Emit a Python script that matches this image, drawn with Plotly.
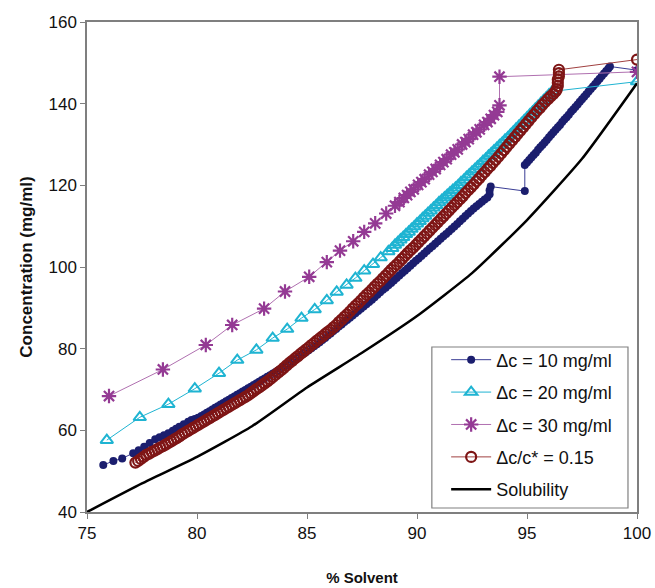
import plotly.graph_objects as go

# ---- data ----
dc10_x = [75.74, 76.2, 76.6, 77.1, 77.35, 77.6, 77.85, 78.1, 78.3, 78.5, 78.7, 78.9, 79.05, 79.2, 79.4,
          79.6, 79.75, 79.9, 80.05, 80.2, 80.325, 80.45, 80.575, 80.7, 80.825, 80.95, 81.075, 81.2, 81.325, 81.45,
          81.575, 81.7, 81.825, 81.95, 82.075, 82.2, 82.325, 82.45, 82.575, 82.7, 82.825, 82.95, 83.075, 83.2, 83.325,
          83.45, 83.575, 83.7, 83.825, 83.95, 84.075, 84.2, 84.325, 84.45, 84.575, 84.7, 84.825, 84.95, 85.075, 85.2,
          85.325, 85.45, 85.575, 85.7, 85.825, 85.95, 86.075, 86.2, 86.325, 86.45, 86.575, 86.7, 86.825, 86.95, 87.075,
          87.2, 87.325, 87.45, 87.575, 87.7, 87.825, 87.95, 88.075, 88.2, 88.325, 88.45, 88.575, 88.7, 88.825, 88.95,
          89.075, 89.2, 89.325, 89.45, 89.575, 89.7, 89.825, 89.95, 90.075, 90.2, 90.325, 90.45, 90.575, 90.7, 90.825,
          90.95, 91.075, 91.2, 91.325, 91.45, 91.575, 91.7, 91.825, 91.95, 92.075, 92.2, 92.325, 92.45, 92.575, 92.7,
          92.825, 92.95, 93.075, 93.2, 93.3, 93.3, 93.35, 94.9, 94.9, 95.0, 95.1, 95.2, 95.3, 95.4, 95.5,
          95.6, 95.7, 95.8, 95.9, 96.0, 96.1, 96.2, 96.3, 96.4, 96.5, 96.6, 96.7, 96.8, 96.9, 97.0,
          97.1, 97.2, 97.3, 97.4, 97.5, 97.6, 97.7, 97.8, 97.9, 98.0, 98.1, 98.2, 98.3, 98.4, 98.5,
          98.6, 98.7, 98.77, 100.0]
dc10_y = [51.5, 52.5, 53.1, 54.4, 55.1, 56.0, 56.9, 57.8, 58.3, 58.8, 59.3, 59.9, 60.4, 60.9, 61.5,
          62.1, 62.5, 62.8, 63.1, 63.5, 63.9, 64.3, 64.7, 65.1, 65.5, 65.9, 66.3, 66.7, 67.1, 67.5,
          67.9, 68.3, 68.7, 69.1, 69.5, 69.9, 70.3, 70.7, 71.1, 71.5, 71.9, 72.3, 72.7, 73.1, 73.5,
          73.9, 74.3, 74.7, 75.1, 75.5, 76.0, 76.4, 76.9, 77.3, 77.8, 78.2, 78.7, 79.1, 79.6, 80.1,
          80.6, 81.1, 81.6, 82.1, 82.6, 83.2, 83.7, 84.3, 84.8, 85.4, 85.9, 86.5, 87.0, 87.6, 88.1,
          88.7, 89.2, 89.8, 90.3, 90.9, 91.4, 92.0, 92.6, 93.2, 93.8, 94.4, 94.9, 95.5, 96.1, 96.7,
          97.3, 97.9, 98.5, 99.1, 99.7, 100.3, 100.9, 101.5, 102.1, 102.7, 103.3, 103.9, 104.5, 105.1, 105.7,
          106.3, 106.9, 107.5, 108.1, 108.7, 109.3, 109.9, 110.5, 111.2, 111.8, 112.5, 113.1, 113.7, 114.3, 114.9,
          115.4, 116.0, 116.5, 117.0, 117.8, 118.8, 119.7, 118.6, 125.0, 125.6, 126.2, 126.8, 127.4, 128.0, 128.7,
          129.3, 129.9, 130.5, 131.1, 131.8, 132.4, 133.0, 133.6, 134.2, 134.8, 135.5, 136.1, 136.7, 137.3, 138.0,
          138.6, 139.2, 139.8, 140.5, 141.1, 141.7, 142.3, 143.0, 143.6, 144.2, 144.8, 145.5, 146.1, 146.8, 147.4,
          148.0, 148.6, 149.1, 148.2]

dc20_x = [75.9, 77.4, 78.7, 79.9, 81.0, 81.83, 82.7, 83.44, 84.1, 84.75, 85.35, 85.9, 86.35, 86.8, 87.2,
          87.6, 88.0, 88.35, 88.7, 88.875, 89.0, 89.125, 89.25, 89.375, 89.5, 89.625, 89.75, 89.875, 90.0, 90.125,
          90.25, 90.375, 90.5, 90.625, 90.75, 90.875, 91.0, 91.125, 91.25, 91.375, 91.5, 91.625, 91.75, 91.875, 92.0,
          92.125, 92.25, 92.375, 92.5, 92.625, 92.75, 92.875, 93.0, 93.125, 93.25, 93.375, 93.5, 93.625, 93.75, 93.875,
          94.0, 94.125, 94.25, 94.375, 94.5, 94.625, 94.75, 94.875, 95.0, 95.125, 95.25, 95.375, 95.5, 95.625, 95.75,
          95.875, 96.0, 96.15, 100.0]
dc20_y = [57.6, 63.2, 66.4, 70.2, 74.0, 77.2, 79.7, 82.6, 84.8, 87.5, 89.6, 91.8, 93.9, 95.6, 97.3,
          99.1, 100.7, 102.3, 103.8, 104.6, 105.4, 106.0, 106.7, 107.3, 108.0, 108.6, 109.3, 109.9, 110.6, 111.2,
          111.9, 112.5, 113.2, 113.8, 114.5, 115.1, 115.8, 116.4, 117.0, 117.6, 118.2, 118.8, 119.4, 120.0, 120.7,
          121.3, 122.0, 122.6, 123.3, 123.9, 124.6, 125.2, 125.9, 126.5, 127.2, 127.8, 128.5, 129.1, 129.8, 130.4,
          131.1, 131.7, 132.4, 133.1, 133.8, 134.5, 135.2, 135.9, 136.6, 137.3, 138.0, 138.7, 139.4, 140.1, 140.8,
          141.5, 142.2, 143.0, 145.4]

dc30_x = [76.0, 78.45, 80.4, 81.6, 83.05, 84.0, 85.1, 85.9, 86.5, 87.1, 87.6, 88.1, 88.6, 89.0, 89.2,
          89.4, 89.55, 89.7, 89.85, 90.05, 90.2, 90.35, 90.55, 90.7, 90.85, 91.05, 91.2, 91.35, 91.55, 91.7,
          91.85, 92.05, 92.2, 92.35, 92.55, 92.7, 92.85, 93.05, 93.2, 93.35, 93.5, 93.65, 93.75, 93.75, 100.0]
dc30_y = [68.4, 74.9, 80.9, 85.8, 89.8, 94.0, 97.6, 101.2, 104.0, 106.3, 108.6, 110.7, 113.1, 115.0, 115.9,
          116.9, 117.6, 118.4, 119.0, 120.1, 120.8, 121.5, 122.6, 123.3, 124.0, 125.0, 125.7, 126.4, 127.5, 128.1,
          128.8, 130.0, 130.6, 131.3, 132.4, 133.0, 133.7, 134.8, 135.5, 136.3, 137.2, 138.0, 139.6, 146.6, 147.8]

rel_x = [77.2, 77.325, 77.45, 77.575, 77.7, 77.825, 77.95, 78.075, 78.2, 78.325, 78.45, 78.575, 78.7, 78.825, 78.95,
         79.075, 79.2, 79.325, 79.45, 79.575, 79.7, 79.825, 79.95, 80.075, 80.2, 80.325, 80.45, 80.575, 80.7, 80.825,
         80.95, 81.075, 81.2, 81.325, 81.45, 81.575, 81.7, 81.825, 81.95, 82.075, 82.2, 82.325, 82.45, 82.575, 82.7,
         82.825, 82.95, 83.075, 83.2, 83.325, 83.45, 83.575, 83.7, 83.825, 83.95, 84.075, 84.2, 84.325, 84.45, 84.575,
         84.7, 84.825, 84.95, 85.075, 85.2, 85.325, 85.45, 85.575, 85.7, 85.825, 85.95, 86.075, 86.2, 86.325, 86.45,
         86.575, 86.7, 86.825, 86.95, 87.075, 87.2, 87.325, 87.45, 87.575, 87.7, 87.825, 87.95, 88.075, 88.2, 88.325,
         88.45, 88.575, 88.7, 88.825, 88.95, 89.075, 89.2, 89.325, 89.45, 89.575, 89.7, 89.825, 89.95, 90.075, 90.2,
         90.325, 90.45, 90.575, 90.7, 90.825, 90.95, 91.075, 91.2, 91.325, 91.45, 91.575, 91.7, 91.825, 91.95, 92.075,
         92.2, 92.325, 92.45, 92.575, 92.7, 92.825, 92.95, 93.075, 93.2, 93.325, 93.45, 93.575, 93.7, 93.825, 93.95,
         94.075, 94.2, 94.325, 94.45, 94.575, 94.7, 94.825, 94.95, 95.075, 95.2, 95.325, 95.45, 95.575, 95.7, 95.825,
         95.95, 96.075, 96.2, 96.3, 96.35, 96.4, 96.4, 96.4, 96.45, 96.45, 96.45, 100.0]
rel_y = [52.1, 52.5, 53.0, 53.5, 54.0, 54.3, 54.7, 55.0, 55.4, 55.8, 56.1, 56.5, 56.9, 57.3, 57.7,
         58.1, 58.5, 59.0, 59.4, 59.8, 60.2, 60.6, 61.0, 61.4, 61.8, 62.2, 62.6, 63.0, 63.4, 63.8,
         64.2, 64.6, 65.0, 65.4, 65.8, 66.2, 66.6, 67.0, 67.4, 67.8, 68.2, 68.6, 69.1, 69.6, 70.1,
         70.5, 71.0, 71.5, 72.0, 72.5, 73.1, 73.6, 74.2, 74.7, 75.3, 75.9, 76.5, 77.0, 77.6, 78.1,
         78.7, 79.2, 79.8, 80.3, 80.9, 81.4, 82.0, 82.5, 83.0, 83.6, 84.1, 84.6, 85.2, 85.8, 86.5,
         87.1, 87.8, 88.4, 89.1, 89.8, 90.5, 91.1, 91.8, 92.5, 93.2, 93.8, 94.5, 95.2, 95.9, 96.5,
         97.2, 97.9, 98.6, 99.3, 100.0, 100.6, 101.3, 102.0, 102.7, 103.4, 104.1, 104.7, 105.4, 106.1, 106.8,
         107.5, 108.2, 108.9, 109.6, 110.3, 111.0, 111.7, 112.4, 113.1, 113.8, 114.5, 115.2, 115.9, 116.6, 117.3,
         118.1, 118.8, 119.5, 120.2, 121.0, 121.7, 122.5, 123.2, 124.0, 124.7, 125.5, 126.2, 127.0, 127.8, 128.6,
         129.4, 130.2, 131.0, 131.8, 132.6, 133.4, 134.2, 135.0, 135.8, 136.6, 137.4, 138.2, 138.9, 139.7, 140.4,
         141.1, 141.8, 142.4, 143.0, 143.5, 144.3, 145.1, 145.9, 146.7, 147.5, 148.3, 150.8]

sol_x = [75.0, 77.5, 80.0, 82.5, 85.0, 87.5, 90.0, 92.5, 95.0, 97.5, 100.0]
sol_y = [40.0, 47.0, 53.5, 61.0, 70.5, 79.0, 88.0, 98.5, 111.5, 126.5, 145.0]

names = ["Δc = 10 mg/ml", "Δc = 20 mg/ml", "Δc = 30 mg/ml", "Δc/c* = 0.15", "Solubility"]

FONT = "Liberation Sans, Arial, sans-serif"
NAVY = "#1b1e6e"
CYAN = "#1fb4d2"
PURPLE = "#943a94"
RED = "#7e1515"

fig = go.Figure()
fig.add_trace(go.Scatter(x=dc10_x, y=dc10_y, name=names[0], mode="lines+markers", legendgroup="a",
                         line=dict(color="#3a3d95", width=1),
                         marker=dict(symbol="circle", size=8, color=NAVY)))
fig.add_trace(go.Scatter(x=dc20_x, y=dc20_y, name=names[1], mode="lines+markers", legendgroup="b",
                         line=dict(color=CYAN, width=1),
                         marker=dict(symbol="triangle-up-open", size=11, color=CYAN, line=dict(width=2, color=CYAN))))
fig.add_trace(go.Scatter(x=dc30_x, y=dc30_y, name=names[2], mode="lines+markers", legendgroup="c",
                         line=dict(color="#b070b0", width=1),
                         marker=dict(symbol="asterisk-open", size=12, color=PURPLE, line=dict(width=2.2, color=PURPLE))))
fig.add_trace(go.Scatter(x=rel_x, y=rel_y, name=names[3], mode="lines+markers", legendgroup="d",
                         line=dict(color="#a04040", width=1),
                         marker=dict(symbol="circle-open", size=10, color=RED, line=dict(width=2.2, color=RED))))
fig.add_trace(go.Scatter(x=sol_x, y=sol_y, name=names[4], mode="lines", legendgroup="e",
                         line=dict(color="black", width=2.5, shape="spline", smoothing=0.5)))

axis_common = dict(showgrid=False, zeroline=False, showline=True, linecolor="#7f7f7f", linewidth=1.5,
                   mirror=True, ticks="outside", ticklen=5, tickcolor="#7f7f7f", automargin=False,
                   tickfont=dict(family=FONT, size=17, color="#111"))

fig.update_xaxes(range=[75, 100], dtick=5, tick0=75,
                 title=dict(text="<b>% Solvent</b>", font=dict(family=FONT, size=15, color="#111"), standoff=30),
                 **axis_common)
fig.update_yaxes(range=[40, 160], dtick=20, tick0=40,
                 title=dict(text="<b>Concentration (mg/ml)</b>", font=dict(family=FONT, size=17, color="#111"), standoff=12),
                 **axis_common)

# legend frame
fig.add_shape(type="rect", xref="paper", yref="paper", x0=0.627, x1=0.9836, y0=0.0082, y1=0.3367,
              line=dict(color="#808080", width=1.2), fillcolor="white", layer="below")

fig.update_layout(
    width=655, height=588,
    margin=dict(l=87, r=18, t=22, b=76, autoexpand=False),
    paper_bgcolor="white", plot_bgcolor="white",
    font=dict(family=FONT, size=16, color="#111"),
    showlegend=True,
    legend=dict(x=0.653, y=0.348, xanchor="left", yanchor="top", bgcolor="rgba(0,0,0,0)",
                borderwidth=0, font=dict(family=FONT, size=18, color="#111"),
                tracegroupgap=6, traceorder="grouped", itemwidth=40),
)

fig.write_html("out.html")
